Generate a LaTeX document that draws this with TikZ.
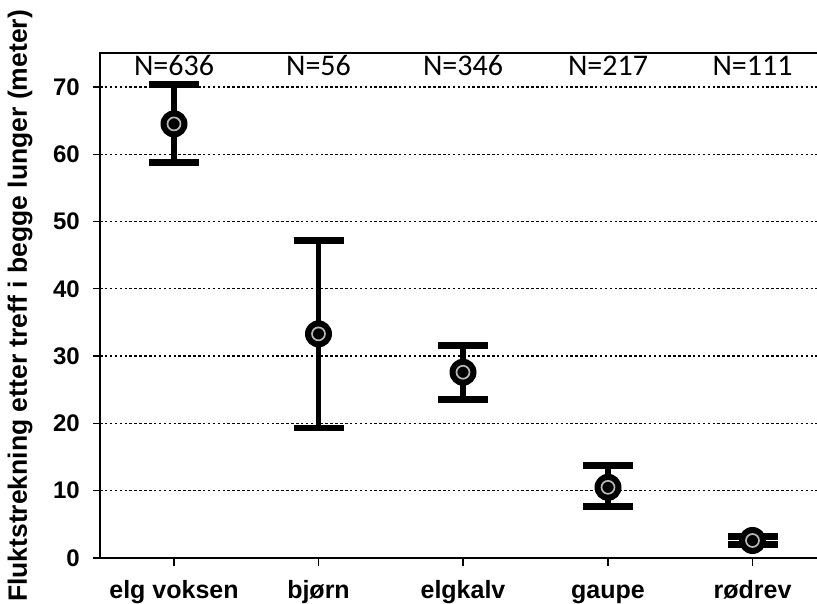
\documentclass[tikz,border=0pt]{standalone}
\usepackage{fontspec}
\setmainfont{Liberation Sans}
\newfontfamily\nfont{Carlito}
\tikzstyle{axis} = [draw, line width=1.3pt]
\tikzstyle{gridline} = [draw, line width=1.3pt, dash pattern=on 2.5pt off 2.4pt]
\tikzstyle{errcap} = [draw, line width=6.7pt]
\tikzstyle{errstem} = [draw, line width=5.5pt]
\tikzstyle{meanmark} = [circle, fill=black, minimum size=27pt, inner sep=0pt]
\tikzstyle{meanring} = [circle, draw=black!28, line width=1.7pt, minimum size=13pt, inner sep=0pt]
\tikzstyle{ylabel} = [font=\bfseries\fontsize{24}{26}\selectfont, anchor=east, inner sep=0pt]
\tikzstyle{catlabel} = [font=\bfseries\fontsize{25}{27}\selectfont, anchor=base, inner sep=0pt]
\tikzstyle{nlabel} = [font=\nfont\fontsize{30}{32}\selectfont, anchor=base, inner sep=0pt]

\begin{document}
\begin{tikzpicture}[x=1pt, y=1pt]
    \useasboundingbox (0,0) rectangle (817,604);
    \coordinate (origin) at (100,46);
    \coordinate (topleft) at (100,551);
    \coordinate (topright) at (817,551);
    \coordinate (xend) at (817,46);
    \coordinate (xstart) at (93,46);

    % grid and y ticks
    \foreach \v in {10,20,...,70} {
        \coordinate (gl\v) at (93,46+6.73*\v);
        \coordinate (gr\v) at (817,46+6.73*\v);
        \draw [axis] (gl\v) -- ++(7,0);
        \draw [gridline] ([xshift=7pt]gl\v) -- (gr\v);
    }
    \foreach \v in {0,10,...,70}
        \node [ylabel] (yt\v) at (80,46+6.73*\v) {\v};

    % frame
    \draw [axis] (xstart) -- (xend);
    \draw [axis] (origin) -- (topleft) -- (topright);

    % y axis title
    \node [font=\bfseries\fontsize{26.5}{28}\selectfont, rotate=90, inner sep=0pt] (ytitle) at (20,298) {Fluktstrekning etter treff i begge lunger (meter)};

    % categories: x / mean / high / low / label / N
    \foreach \i/\x/\m/\hi/\lo/\lab/\n in {
        1/174/64.5/70.4/58.8/elg voksen/636,
        2/318.5/33.3/47.2/19.3/bjørn/56,
        3/463/27.6/31.6/23.6/elgkalv/346,
        4/608/10.5/13.7/7.6/gaupe/217,
        5/752.5/2.6/3.2/2.0/rødrev/111} {
        \coordinate (tick\i) at (\x,46);
        \draw [axis] (tick\i) -- ++(0,-8);
        \node [catlabel] (cat\i) at (\x,5) {\lab};
        \node [nlabel] (n\i) at (\x,528) {N=\n};
        \coordinate (hi\i) at (\x,46+6.73*\hi);
        \coordinate (lo\i) at (\x,46+6.73*\lo);
        \draw [errstem] (lo\i) -- (hi\i);
        \draw [errcap] ([xshift=-25pt]hi\i) -- ([xshift=25pt]hi\i);
        \draw [errcap] ([xshift=-25pt]lo\i) -- ([xshift=25pt]lo\i);
        \node [meanmark] (mean\i) at (\x,46+6.73*\m) {};
        \node [meanring] (ring\i) at (mean\i) {};
    }
\end{tikzpicture}
\end{document}
